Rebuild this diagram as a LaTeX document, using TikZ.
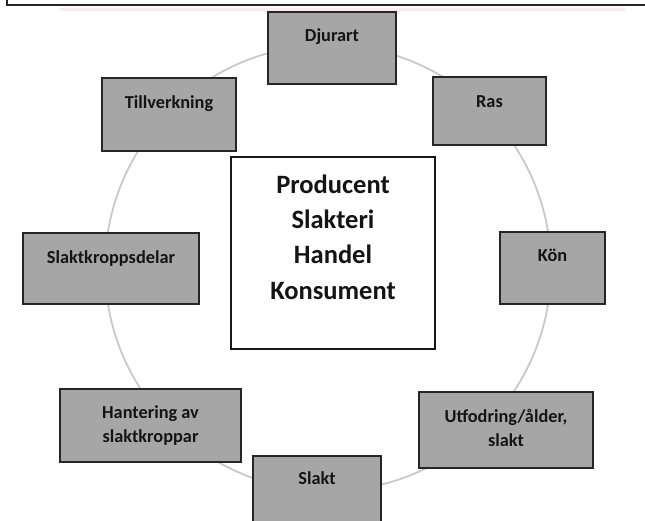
\documentclass[tikz,border=0pt]{standalone}
\usepackage{fontspec}
\setmainfont{Carlito}
\begin{document}
\begin{tikzpicture}[x=1pt,y=-1pt,
  gbox/.style={draw=black!85, line width=1.3pt, fill=boxgrey, rectangle, inner sep=0pt},
  wbox/.style={draw=black!90, line width=1.3pt, fill=white, rectangle, inner sep=0pt},
  lbl/.style={font=\bfseries\fontsize{18.3}{24}\selectfont, text=black!92, align=center, inner sep=0pt, anchor=base},
  big/.style={font=\bfseries\fontsize{26.5}{35.2}\selectfont, text=black!92, align=center, inner sep=0pt, anchor=base},
  ringst/.style={circle, draw=ringgrey, line width=1.8pt, inner sep=0pt, minimum size=446pt}
]
\definecolor{boxgrey}{RGB}{166,166,166}
\definecolor{ringgrey}{RGB}{200,200,208}
\clip (0,0) rectangle (645,520);
\fill[white] (0,0) rectangle (645,520);
% top frame remnant
\coordinate (fa) at (7,-2);
\coordinate (fb) at (7,5);
\coordinate (fc) at (650,5);
\draw[line width=1.3pt, black!85] (fa) -- (fb) -- (fc);
\coordinate (pa) at (60,9);
\coordinate (pb) at (625,9);
\draw[line width=3pt, red!40, opacity=0.2] (pa) -- (pb);
% ring
\node[ringst] (ring) at (328,268) {};
% boxes
\node[gbox, minimum width=128pt, minimum height=72pt] (djurart) at (332,48) {};
\node[gbox, minimum width=113pt, minimum height=68pt] (ras) at (489.5,111) {};
\node[gbox, minimum width=134pt, minimum height=73pt] (tillv) at (169,114.5) {};
\node[wbox, minimum width=204pt, minimum height=192pt] (center) at (333,253) {};
\node[gbox, minimum width=176pt, minimum height=71pt] (skdelar) at (111,268.5) {};
\node[gbox, minimum width=105pt, minimum height=72pt] (kon) at (552.5,268) {};
\node[gbox, minimum width=181pt, minimum height=73pt] (hant) at (150.5,425.5) {};
\node[gbox, minimum width=174pt, minimum height=76pt] (utf) at (506,430) {};
\node[gbox, minimum width=128pt, minimum height=80pt] (slakt) at (317,496) {};
% texts (anchor=base is the baseline of the last line)
\node[lbl] (djurartT) at (332,41) {Djurart};
\node[lbl] (rasT) at (489.5,107) {Ras};
\node[lbl] (tillvT) at (169,108) {Tillverkning};
\node[lbl] (skdelarT) at (111,263) {Slaktkroppsdelar};
\node[lbl] (konT) at (552.5,261) {Kön};
\node[lbl] (hantT) at (150.5,442) {Hantering av\\slaktkroppar};
\node[lbl] (utfT) at (506,446) {Utfodring/ålder,\\slakt};
\node[lbl] (slaktT) at (317,484) {Slakt};
\node[big] (centerT) at (333,299) {Producent\\Slakteri\\Handel\\Konsument};
\end{tikzpicture}
\end{document}
